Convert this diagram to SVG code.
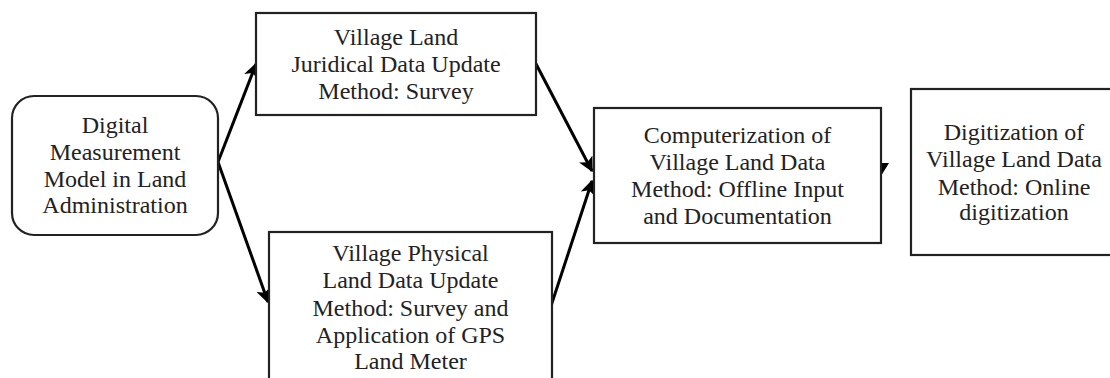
<svg xmlns="http://www.w3.org/2000/svg" width="1110" height="378" viewBox="0 0 1110 378">
<style>
.box{fill:#fff;stroke:#222;stroke-width:2.2}
.t{font-family:"Liberation Serif","Times New Roman",serif;font-size:24px;fill:#222;text-anchor:middle}
.c{stroke:#000;stroke-width:3;fill:none;marker-end:url(#ah)}
</style>
<defs>
<marker id="ah" viewBox="0 0 10 10" refX="9" refY="5" markerWidth="5" markerHeight="5" markerUnits="strokeWidth" orient="auto">
<path d="M0,0 L10,5 L0,10 L2.5,5 Z" fill="#000"/>
</marker>
</defs>
<rect width="1110" height="378" fill="#fff"/>
<g id="connectors">
<line class="c" x1="218" y1="162" x2="256" y2="64"/>
<line class="c" x1="218" y1="162" x2="268" y2="302"/>
<line class="c" x1="535" y1="62" x2="592" y2="171"/>
<line class="c" x1="551" y1="306" x2="592" y2="181"/>
<path d="M873,163 L889,163 L881,176 Z" fill="#000"/>
</g>
<g id="node-digital">
<rect class="box" x="12" y="96" width="206" height="139" rx="22"/>
<text class="t" x="115" y="133">Digital</text>
<text class="t" x="115" y="160">Measurement</text>
<text class="t" x="115" y="186.5">Model in Land</text>
<text class="t" x="115" y="213">Administration</text>
</g>
<g id="node-juridical">
<rect class="box" x="256" y="13" width="280" height="102"/>
<text class="t" x="396" y="45">Village Land</text>
<text class="t" x="396" y="72">Juridical Data Update</text>
<text class="t" x="396" y="99">Method: Survey</text>
</g>
<g id="node-physical">
<rect class="box" x="269" y="232" width="283" height="160"/>
<text class="t" x="410.5" y="261">Village Physical</text>
<text class="t" x="410.5" y="288">Land Data Update</text>
<text class="t" x="410.5" y="316">Method: Survey and</text>
<text class="t" x="410.5" y="343">Application of GPS</text>
<text class="t" x="410.5" y="369">Land Meter</text>
</g>
<g id="node-computerization">
<rect class="box" x="594" y="108" width="287" height="135"/>
<text class="t" x="737.5" y="142.5">Computerization of</text>
<text class="t" x="737.5" y="169.5">Village Land Data</text>
<text class="t" x="737.5" y="196.5">Method: Offline Input</text>
<text class="t" x="737.5" y="223.5">and Documentation</text>
</g>
<g id="node-digitization">
<rect class="box" x="911" y="89" width="220" height="166"/>
<text class="t" x="1014" y="140">Digitization of</text>
<text class="t" x="1014" y="167">Village Land Data</text>
<text class="t" x="1014" y="195">Method: Online</text>
<text class="t" x="1014" y="220">digitization</text>
</g>
</svg>
